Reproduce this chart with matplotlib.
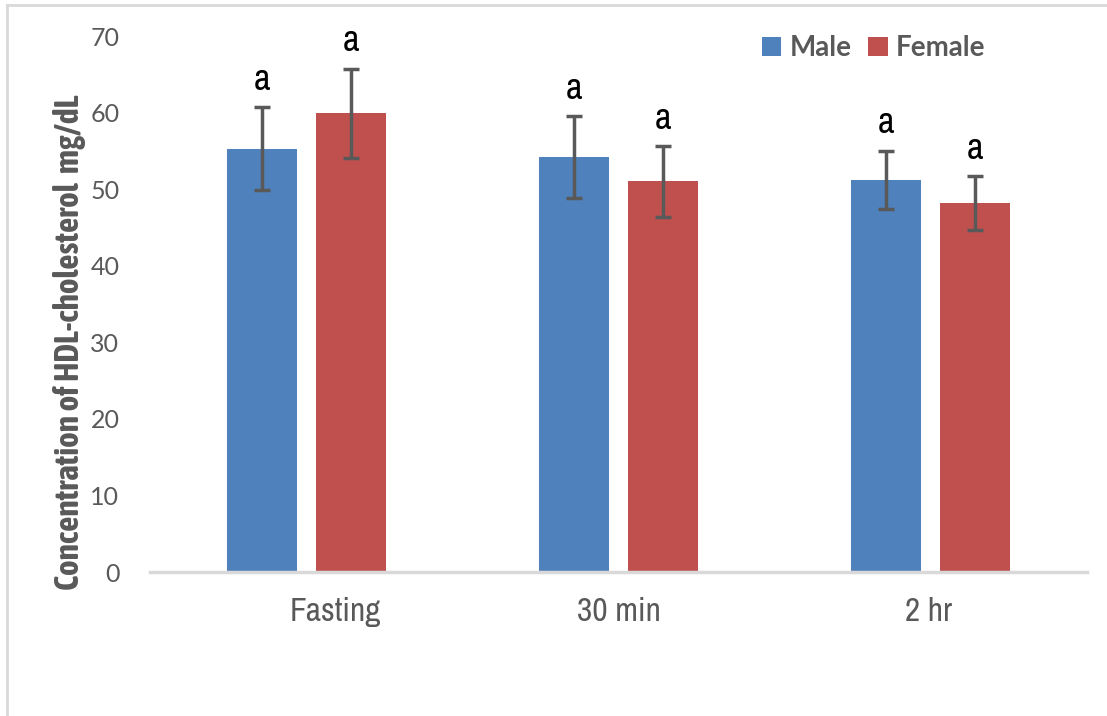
import numpy as np
import matplotlib.pyplot as plt
from matplotlib.lines import Line2D
from matplotlib import font_manager

groups = ["Fasting", "30 min", "2 hr"]
male = [55.3, 54.2, 51.2]
female = [59.9, 51.0, 48.2]
male_err = [5.4, 5.3, 3.8]
female_err = [5.8, 4.6, 3.5]
male_sig = ["a", "a", "a"]
female_sig = ["a", "a", "a"]

blue = "#4f81bd"
red = "#c0504d"
grey = "#595959"

# narrow faces: any, and one that ships a bold weight
fl = font_manager.fontManager.ttflist
narrow_all = sorted({f.name for f in fl if "Narrow" in f.name or "Condensed" in f.name})
narrow_bold = sorted({f.name for f in fl if ("Narrow" in f.name or "Condensed" in f.name)
                      and f.weight in ("bold", 700, "heavy", 800)})
narrow = narrow_all[:1] + ["Liberation Sans", "DejaVu Sans"]
narrow_b = narrow_bold[:1] + narrow

fig = plt.figure(figsize=(11.07, 7.16), dpi=100)
ax = fig.add_axes([150/1107, 1-572/716, 937/1107, 536/716])

x = np.arange(len(groups))
w = 0.224
off = 0.1426
ekw = dict(ecolor=grey, elinewidth=2.5, capsize=6, capthick=2.5)
ax.bar(x - off, male, w, color=blue, yerr=male_err, error_kw=ekw, label="Male")
ax.bar(x + off, female, w, color=red, yerr=female_err, error_kw=ekw, label="Female")

# significance letters above the error bars
for i in range(len(groups)):
    ax.text(x[i] - off, male[i] + male_err[i] + 1.5, male_sig[i], ha="center", va="bottom",
            fontsize=26, family=narrow, color="black")
    ax.text(x[i] + off, female[i] + female_err[i] + 1.5, female_sig[i], ha="center", va="bottom",
            fontsize=26, family=narrow, color="black")

ax.set_xlim(-0.5, 2.5)
ax.set_ylim(0, 70)
ax.set_yticks(np.arange(0, 71, 10))
# "Fasting" label sits a bit right of its group
label_shift = [0.094, 0.0, -0.006]
ax.set_xticks(x + np.array(label_shift))
ax.set_xticklabels(groups, family=narrow, fontsize=24, color=grey)
for t in ax.get_yticklabels():
    t.set_family(["Lato", "DejaVu Sans"])
    t.set_fontsize(18)
    t.set_color(grey)
ax.tick_params(axis="both", length=0)
ax.tick_params(axis="x", pad=18)
ax.tick_params(axis="y", pad=22)
for s in ["top", "right", "left"]:
    ax.spines[s].set_visible(False)
ax.spines["bottom"].set_color("#d9d9d9")
ax.spines["bottom"].set_linewidth(2.5)

ax.set_ylabel("Concentration of HDL-cholesterol  mg/dL", family=narrow_b, fontsize=24,
              fontweight="bold", color=grey)
ax.yaxis.set_label_coords(-0.068, 0.428)

leg = ax.legend(loc="center left", bbox_to_anchor=(612/937, 1-(48-36)/536), ncol=2, frameon=False,
                prop={"family": ["Lato", "DejaVu Sans"], "size": 20, "weight": "bold"},
                handlelength=0.7, handleheight=0.7, handletextpad=0.3, columnspacing=0.6,
                borderaxespad=0, borderpad=0)
for t in leg.get_texts():
    t.set_color(grey)

# outer frame lines (top and left only)
fig.add_artist(Line2D([7/1107, 1], [1-5/716, 1-5/716], color="#d9d9d9", lw=2, transform=fig.transFigure))
fig.add_artist(Line2D([7/1107, 7/1107], [0, 1-5/716], color="#d9d9d9", lw=2, transform=fig.transFigure))

fig.savefig("out.png", dpi=100)
